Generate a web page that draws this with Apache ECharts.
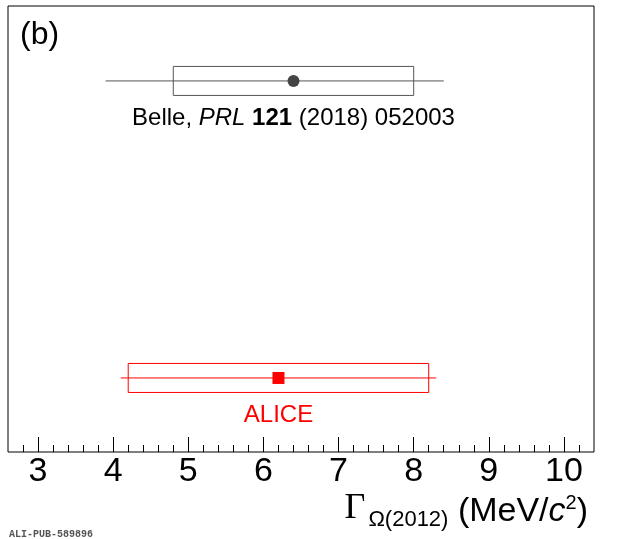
<!DOCTYPE html>
<html>
<head>
<meta charset="utf-8">
<script src="https://cdn.jsdelivr.net/npm/echarts@6/dist/echarts.min.js"></script>
<style>html,body{margin:0;padding:0;background:#fff}#c{width:620px;height:539px}</style>
</head>
<body>
<div id="c"></div>
<script>
// Measurements
var experiments = ['Belle', 'ALICE'];
var centralValues = [6.4, 6.2];
var whiskerLow = [3.9, 4.1];
var whiskerHigh = [8.4, 8.3];
var boxLow = [4.8, 4.2];
var boxHigh = [8.0, 8.2];
var rowPos = [0.832, 0.166];
var majorTicks = [3, 4, 5, 6, 7, 8, 9, 10];

var colors = { Belle: { line: '#555555', marker: '#444444', text: '#000000' },
               ALICE: { line: '#ff0000', marker: '#ff0000', text: '#ff0000' } };
var labelText = {
  Belle: '{n|Belle, }{i|PRL}{n| }{b|121}{n| (2018) 052003}',
  ALICE: '{r|ALICE}'
};

var data = experiments.map(function (e, i) {
  return [rowPos[i], centralValues[i], whiskerLow[i], whiskerHigh[i], boxLow[i], boxHigh[i]];
});

var font = 'Liberation Sans, Arial, Helvetica, sans-serif';

var chart = echarts.init(document.getElementById('c'), null, { renderer: 'canvas' });
chart.setOption({
  animation: false,
  backgroundColor: '#fff',
  grid: { left: 8, top: 6, right: 26, bottom: 87, show: true, borderColor: '#000', borderWidth: 1, backgroundColor: 'transparent' },
  title: [{
    text: '(b)', left: 15, top: 14,
    textStyle: { fontFamily: font, fontSize: 32, fontWeight: 'normal', color: '#000' }
  }, {
    text: '{g|Γ}{s|Ω(2012)}{u| (MeV/}{c|c}{sup|2}{u|)}',
    right: 27, top: 486,
    textStyle: {
      fontWeight: 'normal',
      rich: {
        g: { fontFamily: 'Liberation Serif, Times New Roman, serif', fontSize: 36, fontWeight: 'normal', color: '#000', verticalAlign: 'bottom', padding: [0, 0, 4, 0] },
        s: { fontFamily: font, fontSize: 22, fontWeight: 'normal', color: '#000', padding: [0, 0, 0, 3], verticalAlign: 'bottom' },
        u: { fontFamily: font, fontSize: 34, fontWeight: 'normal', color: '#000', verticalAlign: 'bottom', padding: [0, 0, 2, 0] },
        c: { fontFamily: font, fontSize: 34, fontWeight: 'normal', fontStyle: 'italic', color: '#000', verticalAlign: 'bottom', padding: [0, 0, 2, 0] },
        sup: { fontFamily: font, fontSize: 20, fontWeight: 'normal', color: '#000', padding: [0, 0, 18, 0], verticalAlign: 'bottom' }
      }
    }
  }, {
    text: 'ALI-PUB-589896', left: 4, top: 524,
    textStyle: { fontFamily: 'Liberation Mono, DejaVu Sans Mono, monospace', fontSize: 10, fontWeight: 'bold', color: '#555' }
  }],
  xAxis: [{
    type: 'value', min: 2.6, max: 10.4, interval: 0.2,
    axisLine: { show: false },
    splitLine: { show: false },
    axisTick: { show: true, inside: true, length: 7, lineStyle: { color: '#000', width: 1 } },
    axisLabel: {
      show: true, margin: 3,
      fontFamily: font, fontSize: 34, color: '#000',
      showMinLabel: false, showMaxLabel: false,
      formatter: function (v) {
        var r = Math.round(v);
        return Math.abs(v - r) < 1e-6 ? String(r) : '';
      }
    }
  }, {
    type: 'value', min: 2.6, max: 10.4, position: 'bottom',
    axisLine: { show: false },
    splitLine: { show: false },
    axisTick: { show: true, inside: true, length: 15, customValues: majorTicks, lineStyle: { color: '#000', width: 1 } },
    axisLabel: { show: false }
  }],
  yAxis: { type: 'value', min: 0, max: 1, show: false },
  series: [{
    type: 'custom',
    xAxisIndex: 0,
    data: data,
    renderItem: function (params, api) {
      var idx = params.dataIndex;
      var name = experiments[idx];
      var col = colors[name];
      var y = api.value(0);
      var c = api.coord([api.value(1), y]);
      var wl = api.coord([api.value(2), y]);
      var wh = api.coord([api.value(3), y]);
      var bl = api.coord([api.value(4), y]);
      var bh = api.coord([api.value(5), y]);
      var hh = 14.5;
      var children = [
        { type: 'line', shape: { x1: wl[0], y1: c[1], x2: wh[0], y2: c[1] }, style: { stroke: col.line, lineWidth: 1 } },
        { type: 'rect', shape: { x: bl[0], y: c[1] - hh, width: bh[0] - bl[0], height: 2 * hh }, style: { fill: 'none', stroke: col.line, lineWidth: 1 } }
      ];
      if (name === 'Belle') {
        children.push({ type: 'circle', shape: { cx: c[0], cy: c[1], r: 6 }, style: { fill: col.marker } });
      } else {
        children.push({ type: 'rect', shape: { x: c[0] - 6, y: c[1] - 6, width: 12, height: 12 }, style: { fill: col.marker } });
      }
      children.push({
        type: 'text', x: c[0], y: c[1] + 37,
        style: {
          text: labelText[name], align: 'center', verticalAlign: 'middle',
          rich: {
            n: { fontFamily: font, fontSize: 24, fill: '#000' },
            i: { fontFamily: font, fontSize: 24, fontStyle: 'italic', fill: '#000' },
            b: { fontFamily: font, fontSize: 24, fontWeight: 'bold', fill: '#000' },
            r: { fontFamily: font, fontSize: 24, fill: '#ff0000' }
          }
        }
      });
      return { type: 'group', children: children };
    }
  }]
});
</script>
</body>
</html>
